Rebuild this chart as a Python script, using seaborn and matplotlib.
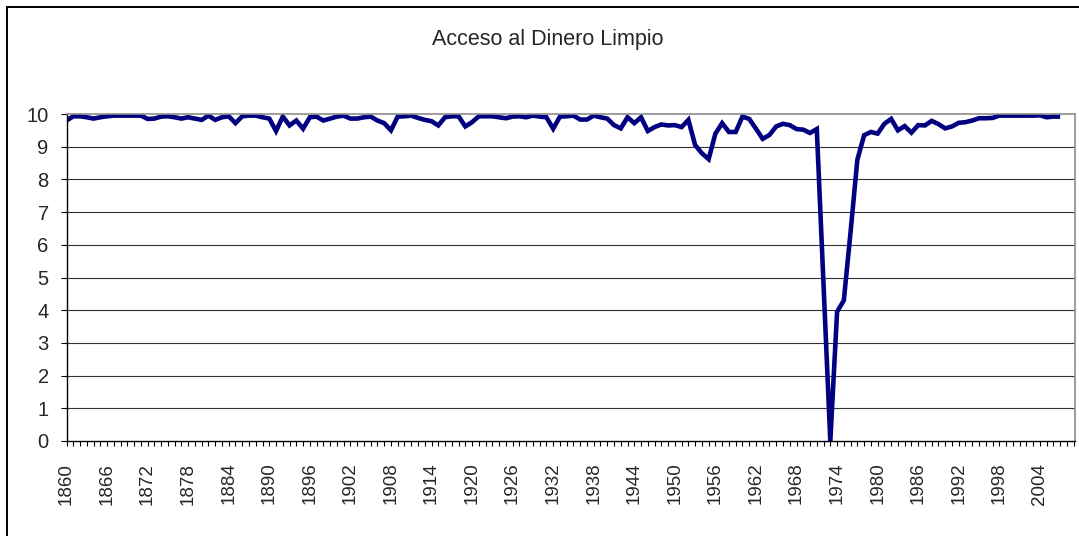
import matplotlib
matplotlib.use("Agg")
import matplotlib.pyplot as plt
from matplotlib.patches import Rectangle
from matplotlib.ticker import MultipleLocator, FixedLocator
import seaborn as sns
import pandas as pd

# datos (indice 0-10 por año)
years = list(range(1860, 2008))
acceso = [
    9.80, 9.93, 9.93, 9.90, 9.86, 9.90, 9.93, 9.95, 9.95, 9.95,   # 1860-1869
    9.95, 9.95, 9.85, 9.86, 9.92, 9.93, 9.90, 9.86, 9.90, 9.86,   # 1870-1879
    9.82, 9.95, 9.82, 9.90, 9.93, 9.72, 9.93, 9.95, 9.95, 9.90,   # 1880-1889
    9.86, 9.48, 9.92, 9.65, 9.80, 9.55, 9.90, 9.92, 9.80, 9.86,   # 1890-1899
    9.92, 9.95, 9.86, 9.86, 9.90, 9.92, 9.80, 9.72, 9.50, 9.92,   # 1900-1909
    9.93, 9.95, 9.88, 9.82, 9.78, 9.65, 9.90, 9.93, 9.93, 9.62,   # 1910-1919
    9.75, 9.93, 9.93, 9.93, 9.90, 9.87, 9.92, 9.93, 9.90, 9.95,   # 1920-1929
    9.92, 9.90, 9.55, 9.92, 9.93, 9.95, 9.83, 9.83, 9.95, 9.90,   # 1930-1939
    9.86, 9.66, 9.56, 9.90, 9.72, 9.90, 9.48, 9.60, 9.68, 9.65,   # 1940-1949
    9.66, 9.60, 9.82, 9.05, 8.80, 8.62, 9.40, 9.72, 9.45, 9.45,   # 1950-1959
    9.92, 9.85, 9.55, 9.24, 9.36, 9.62, 9.70, 9.66, 9.54, 9.52,   # 1960-1969
    9.42, 9.54, 4.80, 0.00, 3.95, 4.30, 6.40, 8.60, 9.35, 9.45,   # 1970-1979
    9.40, 9.70, 9.85, 9.50, 9.63, 9.43, 9.66, 9.65, 9.79, 9.69,   # 1980-1989
    9.56, 9.62, 9.73, 9.75, 9.80, 9.87, 9.87, 9.88, 9.95, 9.95,   # 1990-1999
    9.95, 9.95, 9.95, 9.95, 9.96, 9.90, 9.92, 9.92,               # 2000-2007
]
xtick_years = list(range(1860, 2005, 6))
ytick_vals = list(range(0, 11))

sns.set_style("white")
plt.rcParams["font.family"] = ["Liberation Sans", "DejaVu Sans"]

W, H = 1079, 536
fig = plt.figure(figsize=(W / 100, H / 100), dpi=100)
ax = fig.add_axes([66.5 / W, 95 / H, (1075 - 66.5) / W, 327 / H])

df = pd.DataFrame({"year": years, "valor": acceso})
sns.lineplot(data=df, x="year", y="valor", color="#000080", linewidth=3.3,
             ax=ax, solid_capstyle="butt", solid_joinstyle="miter")

ax.set_xlim(1860, 2009.2)
ax.set_ylim(0, 10)
ax.set_xlabel("")
ax.set_ylabel("")

# lineas de cuadricula horizontales
for v in ytick_vals[1:-1]:
    ax.axhline(v, color="#333333", linewidth=0.8, zorder=0)

ax.yaxis.set_major_locator(FixedLocator(ytick_vals))
ax.tick_params(axis="y", which="major", direction="out", length=4.3, width=0.8,
               color="black", left=True, labelsize=14.5, pad=8.5)

ax.xaxis.set_major_locator(FixedLocator(xtick_years))
ax.xaxis.set_minor_locator(MultipleLocator(1))
ax.set_xticklabels([str(y) for y in xtick_years], rotation=90)
ax.tick_params(axis="x", which="both", direction="out", length=3.6, width=0.8,
               color="black", bottom=True, labelsize=13.5, pad=12)

for side in ["left", "bottom"]:
    ax.spines[side].set_color("black")
    ax.spines[side].set_linewidth(1.0)
for side in ["top", "right"]:
    ax.spines[side].set_color("#8c8c8c")
    ax.spines[side].set_linewidth(1.2)

fig.text(548 / W, 1 - 39 / H, "Acceso al Dinero Limpio", ha="center",
         va="center", fontsize=15.5)

# marco exterior del grafico
fig.add_artist(Rectangle((7 / W, -0.1), 1.2, 1 - 7 / H + 0.1,
                         transform=fig.transFigure, fill=False,
                         edgecolor="black", linewidth=1.4))

fig.savefig("out.png", dpi=100)
